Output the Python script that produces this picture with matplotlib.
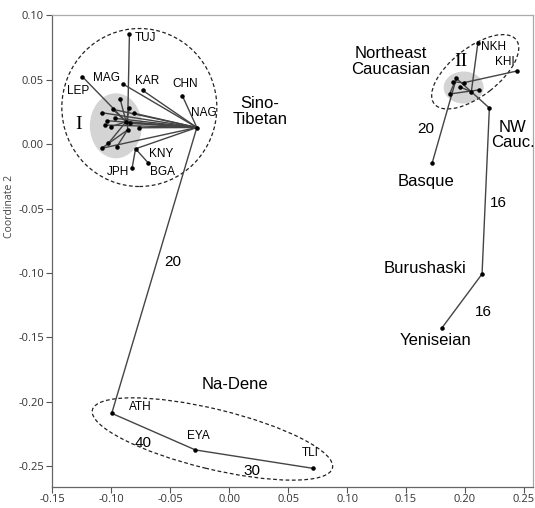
"""
MDS plot of language families (Coordinate 2 vs Coordinate 1)
"""

import matplotlib
matplotlib.use("Agg")
import matplotlib.pyplot as plt
from matplotlib.patches import Ellipse
from matplotlib.transforms import ScaledTranslation
from matplotlib.ticker import FormatStrFormatter, MultipleLocator

# named points
NODE_NAMES = ["TUJ", "LEP", "MAG", "KAR", "CHN", "NAG", "KNY", "JPH", "BGA",
              "ATH", "EYA", "TLI",
              "NKH", "KHI", "NW", "Basque", "Burushaski", "Yeniseian"]
NODE_X = [-0.0846, -0.1245, -0.0897, -0.0732, -0.0397, -0.0274, -0.0794, -0.0823, -0.0688,
          -0.0996, -0.0286, 0.0707,
          0.2110, 0.2445, 0.2207, 0.1721, 0.2145, 0.1806]
NODE_Y = [0.0855, 0.0522, 0.0463, 0.0415, 0.0374, 0.0128, -0.0037, -0.0184, -0.0145,
          -0.2088, -0.2372, -0.2514,
          0.0787, 0.0567, 0.0279, -0.0150, -0.1008, -0.1424]

# unlabeled points inside cluster I (Sino-Tibetan core)
CORE1_X = [-0.0925, -0.1081, -0.0987, -0.0846, -0.0804, -0.1038, -0.0968, -0.1053,
           -0.1004, -0.0840, -0.0761, -0.1081, -0.1025, -0.0953, -0.0874, -0.0862]
CORE1_Y = [0.0349, 0.0243, 0.0269, 0.0277, 0.0238, 0.0181, 0.0199, 0.0147,
           0.0134, 0.0160, 0.0126, -0.0033, 0.0005, -0.0021, 0.0173, 0.0109]

# unlabeled points inside cluster II (NE Caucasian core)
CORE2_X = [0.1927, 0.1896, 0.1989, 0.1870, 0.2054, 0.2116, 0.1955]
CORE2_Y = [0.0509, 0.0483, 0.0475, 0.0388, 0.0405, 0.0419, 0.0444]

# tree edges ("a" = core I point, "b" = core II point)
EDGES = [("TUJ", "a15"), ("LEP", "a14"), ("MAG", "NAG"), ("KAR", "NAG"), ("CHN", "NAG"),
         ("a1", "NAG"), ("a5", "NAG"), ("a7", "NAG"), ("a9", "NAG"), ("a6", "NAG"),
         ("a11", "NAG"), ("a10", "NAG"), ("a4", "NAG"), ("a14", "NAG"), ("a2", "NAG"),
         ("a0", "a14"), ("a3", "a14"), ("a8", "a14"), ("a11", "a15"), ("a12", "a14"),
         ("a13", "a15"), ("a2", "a14"),
         ("KNY", "NAG"), ("KNY", "JPH"), ("KNY", "BGA"),
         ("NAG", "ATH"), ("ATH", "EYA"), ("EYA", "TLI"),
         ("NKH", "b4"), ("KHI", "b2"), ("b0", "b4"), ("b3", "b5"), ("b0", "b3"),
         ("b1", "b2"), ("b6", "b4"), ("b4", "NW"), ("Basque", "b0"),
         ("NW", "Burushaski"), ("Burushaski", "Yeniseian")]

# label texts and their anchor points
SMALL_LABELS = [("TUJ", -0.0712, 0.0819), ("MAG", -0.1044, 0.0514), ("LEP", -0.1279, 0.0411),
                ("KAR", -0.0694, 0.0488), ("CHN", -0.0374, 0.0463), ("NAG", -0.0212, 0.0238),
                ("KNY", -0.0577, -0.0078), ("JPH", -0.0940, -0.0215), ("BGA", -0.0563, -0.0215),
                ("ATH", -0.0755, -0.2036), ("EYA", -0.0261, -0.2264), ("TLI", 0.0688, -0.2398),
                ("NKH", 0.2239, 0.0754), ("KHI", 0.2341, 0.0638)]
BIG_LABELS = [("Sino-\nTibetan", 0.0263, 0.0250), ("Northeast\nCaucasian", 0.1368, 0.0638),
              ("NW\nCauc.", 0.2407, 0.0070), ("Basque", 0.1672, -0.0292),
              ("Burushaski", 0.1664, -0.0964), ("Yeniseian", 0.1749, -0.1527),
              ("Na-Dene", 0.0051, -0.1863)]
DIST_LABELS = [("20", -0.0478, -0.0912), ("20", 0.1666, 0.0114), ("16", 0.2287, -0.0455),
               ("16", 0.2159, -0.1300), ("40", -0.0727, -0.2316), ("30", 0.0193, -0.2535)]
ROMAN_LABELS = [("I", -0.1279, 0.0155), ("II", 0.1962, 0.0638)]


def ring(ax, cx, cy, w_in, h_in, angle, **kw):
    # ellipse sized in inches, centred on a data point
    tr = ax.figure.dpi_scale_trans + ScaledTranslation(cx, cy, ax.transData)
    ax.add_patch(Ellipse((0, 0), w_in, h_in, angle=angle, transform=tr, **kw))


def main():
    fig = plt.figure(figsize=(5.35, 5.08), dpi=100)
    ax = fig.add_axes([0.0978, 0.0419, 0.8991, 0.9285])
    ax.set_xlim(-0.15, 0.258)
    ax.set_ylim(-0.2657, 0.10)

    pos = {n: (x, y) for n, x, y in zip(NODE_NAMES, NODE_X, NODE_Y)}
    for i, (x, y) in enumerate(zip(CORE1_X, CORE1_Y)):
        pos[f"a{i}"] = (x, y)
    for i, (x, y) in enumerate(zip(CORE2_X, CORE2_Y)):
        pos[f"b{i}"] = (x, y)

    # gray cores and dashed family outlines
    ring(ax, -0.0961, 0.0141, 0.52, 0.65, 0, facecolor="#d4d4d4", edgecolor="none", zorder=1)
    ring(ax, 0.1989, 0.0438, 0.40, 0.32, 0, facecolor="#d4d4d4", edgecolor="none", zorder=1)
    dash = dict(facecolor="none", edgecolor="#222222", lw=0.9, linestyle=(0, (3, 2)), zorder=2)
    ring(ax, -0.0762, 0.0283, 1.55, 1.58, 0, **dash)
    ring(ax, 0.2087, 0.0560, 1.04, 0.48, 38, **dash)
    ring(ax, -0.0142, -0.2287, 2.47, 0.60, -13.6, **dash)

    for a, b in EDGES:
        (x1, y1), (x2, y2) = pos[a], pos[b]
        ax.plot([x1, x2], [y1, y2], color="#444444", lw=1.0, zorder=3)

    all_x = [p[0] for p in pos.values()]
    all_y = [p[1] for p in pos.values()]
    ax.scatter(all_x, all_y, s=5, color="black", zorder=4)

    font = "Liberation Sans"
    for txt, x, y in SMALL_LABELS:
        ax.text(x, y, txt, fontsize=8.5, family=font, ha="center", va="center", zorder=5)
    for txt, x, y in BIG_LABELS:
        ax.text(x, y, txt, fontsize=12, family=font, ha="center", va="center",
                linespacing=1.05, zorder=5)
    for txt, x, y in DIST_LABELS:
        ax.text(x, y, txt, fontsize=11, family=font, ha="center", va="center", zorder=5)
    for txt, x, y in ROMAN_LABELS:
        ax.text(x, y, txt, fontsize=14, family="Liberation Serif", ha="center", va="center",
                zorder=5)

    ax.xaxis.set_major_locator(MultipleLocator(0.05))
    ax.yaxis.set_major_locator(MultipleLocator(0.05))
    ax.xaxis.set_major_formatter(FormatStrFormatter("%.2f"))
    ax.yaxis.set_major_formatter(FormatStrFormatter("%.2f"))
    ax.tick_params(direction="out", length=4, width=0.8, color="#555555",
                   labelsize=8, labelcolor="#333333")
    ax.tick_params(axis="x", pad=1.5)
    ax.tick_params(axis="y", pad=2)
    for lab in ax.get_xticklabels() + ax.get_yticklabels():
        lab.set_family("Open Sans")
    for side, sp in ax.spines.items():
        sp.set_color("#666666" if side in ("left", "bottom") else "#aaaaaa")
        sp.set_linewidth(0.9)

    ax.set_ylabel("Coordinate 2", fontsize=7.5, family="Open Sans", color="#444444")
    ax.yaxis.set_label_coords(-0.0775, 0.595)

    fig.savefig("out.png", dpi=100)
    plt.close(fig)


if __name__ == "__main__":
    main()
